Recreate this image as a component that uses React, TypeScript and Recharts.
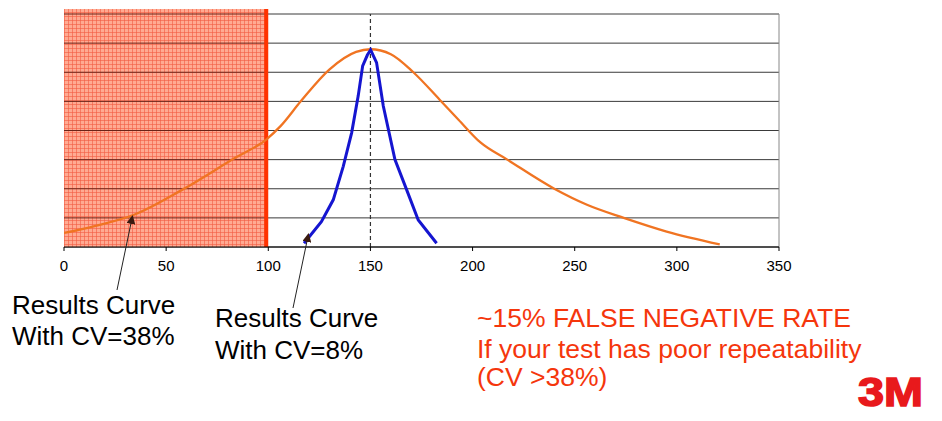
import { LineChart, Line, XAxis, YAxis, CartesianGrid, ReferenceArea, ReferenceLine } from 'recharts';

// x = measured result, y = relative frequency (gridline units)
const orangeX = [0, 15, 34, 58, 84, 99, 106, 116, 130, 143, 150, 160, 171, 184, 193, 204, 217, 240, 256, 274, 295, 321];
const orangeY = [0.48, 0.72, 1.1, 1.97, 3.07, 3.69, 4.15, 5.01, 6.1, 6.7, 6.79, 6.62, 6.0, 5.05, 4.38, 3.58, 3.0, 2.0, 1.45, 1.0, 0.53, 0.09];

const blueX = [117.5, 126, 131.8, 136.7, 140.8, 144, 146.2, 148.5, 150.1, 153, 156.3, 162, 167.7, 173.4, 182.4];
const blueY = [0.13, 0.87, 1.62, 2.77, 3.92, 5.18, 6.22, 6.59, 6.77, 6.33, 4.84, 3.0, 1.97, 0.93, 0.13];

const xTicks = [0, 50, 100, 150, 200, 250, 300, 350];
const yTicks = [0, 1, 2, 3, 4, 5, 6, 7, 8];

const cutoff = 99;
const target = 150;

const orangeData = orangeX.map((x, i) => ({ x, y: orangeY[i] }));
const blueData = blueX.map((x, i) => ({ x, y: blueY[i] }));

const FONT = '"Liberation Sans", Arial, sans-serif';
const RED_TEXT = '#F5360C';

export default function App() {
  return (
    <div style={{ position: 'absolute', left: 0, top: 0, width: 942, height: 421, background: '#fff' }}>
      <LineChart
        width={942}
        height={421}
        margin={{ top: 14, right: 163, bottom: 144, left: 64 }}
      >
        <defs>
          <pattern id="redGrid" width="4" height="4" patternUnits="userSpaceOnUse">
            <rect width="4" height="4" fill="#FFAA92" />
            <path d="M0 0.5 L4 0.5 M0.5 0 L0.5 4" stroke="#F25A42" strokeWidth="0.6" />
          </pattern>
        </defs>
        <XAxis
          type="number"
          dataKey="x"
          domain={[0, 350]}
          ticks={xTicks}
          height={30}
          tickSize={4}
          tickMargin={9}
          axisLine={{ stroke: '#000' }}
          tickLine={{ stroke: '#000' }}
          tick={{ fontSize: 15, fill: '#000', fontFamily: FONT }}
          allowDataOverflow
        />
        <YAxis type="number" domain={[0, 8]} ticks={yTicks} hide />
        <CartesianGrid vertical={false} stroke="#3a3a3a" strokeWidth={1} />
        <ReferenceArea
          x1={0}
          x2={cutoff}
          y1={0}
          y2={8.17}
          fill="url(#redGrid)"
          fillOpacity={1}
          stroke="none"
          ifOverflow="visible"
        />
        {yTicks.slice(1).map((t) => (
          <ReferenceLine
            key={`g-${t}`}
            segment={[{ x: 0, y: t }, { x: cutoff, y: t }]}
            stroke="#6b2418"
            strokeWidth={1}
          />
        ))}
        <ReferenceLine x={350} stroke="#888" strokeWidth={1} />
        <ReferenceLine
          segment={[{ x: cutoff, y: 0 }, { x: cutoff, y: 8.17 }]}
          stroke="#FF3300"
          strokeWidth={4}
          ifOverflow="visible"
        />
        <ReferenceLine x={target} stroke="#333" strokeDasharray="4 3" strokeWidth={1.2} />
        <Line
          data={orangeData}
          dataKey="y"
          type="monotone"
          stroke="#F07422"
          strokeWidth={2.3}
          dot={false}
          isAnimationActive={false}
        />
        <Line
          data={blueData}
          dataKey="y"
          type="linear"
          stroke="#1515D0"
          strokeWidth={3}
          dot={false}
          isAnimationActive={false}
        />
      </LineChart>

      <svg
        width={942}
        height={421}
        style={{ position: 'absolute', left: 0, top: 0, pointerEvents: 'none' }}
      >
        <defs>
          <marker id="tip" markerWidth="9" markerHeight="9" refX="8" refY="4.5" orient="auto" markerUnits="userSpaceOnUse">
            <path d="M0 0 L9 4.5 L0 9 Z" fill="#3a1a10" />
          </marker>
        </defs>
        <line x1={117} y1={290} x2={132.5} y2={216} stroke="#222" strokeWidth={1} markerEnd="url(#tip)" />
        <line x1={293} y1={308} x2={308.5} y2={234} stroke="#222" strokeWidth={1} markerEnd="url(#tip)" />

        <g fontFamily={FONT} fontSize={26} fill="#000">
          <text x={12} y={314}>Results Curve</text>
          <text x={12} y={345}>With CV=38%</text>
          <text x={215} y={327}>Results Curve</text>
          <text x={215} y={359}>With CV=8%</text>
        </g>
        <g fontFamily={FONT} fontSize={26.5} fill={RED_TEXT}>
          <text x={477} y={327}>~15% FALSE NEGATIVE RATE</text>
          <text x={477} y={358}>If your test has poor repeatability</text>
          <text x={477} y={386}>(CV &gt;38%)</text>
        </g>
        <text
          x={858}
          y={406}
          fontFamily={FONT}
          fontWeight="bold"
          fontSize={41}
          fill="#E8191C"
          stroke="#E8191C"
          strokeWidth={1.6}
          textLength={65}
          lengthAdjust="spacingAndGlyphs"
        >
          3M
        </text>
      </svg>
    </div>
  );
}
